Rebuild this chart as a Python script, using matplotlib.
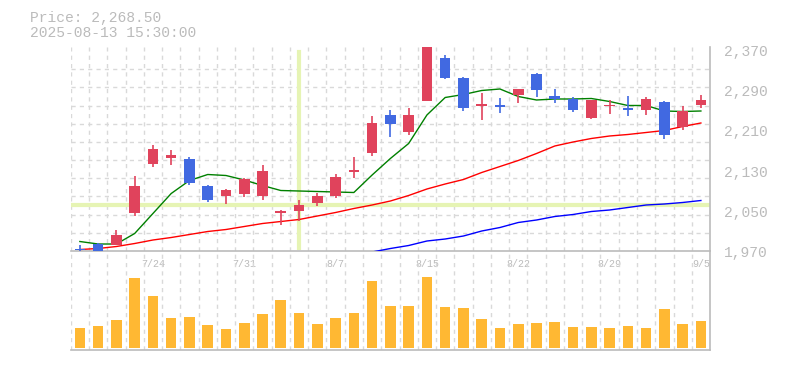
import numpy as np
import matplotlib
matplotlib.use("Agg")
import matplotlib.pyplot as plt
from matplotlib.ticker import FuncFormatter

# datos
fechas = ["7/17", "7/18", "7/22", "7/23", "7/24", "7/25", "7/28", "7/29", "7/30", "7/31",
          "8/1", "8/4", "8/5", "8/6", "8/7", "8/8", "8/12", "8/13", "8/14", "8/15",
          "8/18", "8/19", "8/20", "8/21", "8/22", "8/25", "8/26", "8/27", "8/28", "8/29",
          "9/1", "9/2", "9/3", "9/4", "9/5"]
apertura = [1973, 1984, 1982, 2047, 2145, 2155, 2153, 2100, 2081, 2085,
            2081, 2047, 2051, 2067, 2081, 2129, 2166, 2242, 2208, 2270,
            2356, 2316, 2261, 2262, 2281, 2324, 2280, 2273, 2236, 2259,
            2255, 2251, 2268, 2217, 2261]
maximo = [1982, 1987, 2012, 2121, 2182, 2171, 2158, 2102, 2094, 2117,
          2142, 2052, 2072, 2087, 2124, 2157, 2240, 2252, 2256, 2390,
          2361, 2318, 2285, 2275, 2294, 2326, 2294, 2277, 2271, 2272,
          2280, 2277, 2270, 2260, 2282]
minimo = [1968, 1968, 1982, 2041, 2139, 2142, 2102, 2068, 2065, 2079,
          2073, 2023, 2031, 2061, 2077, 2117, 2160, 2198, 2202, 2270,
          2314, 2249, 2231, 2245, 2265, 2277, 2265, 2248, 2233, 2243,
          2239, 2241, 2193, 2212, 2256]
cierre = [1972, 1968, 2002, 2100, 2174, 2161, 2107, 2073, 2092, 2114,
          2130, 2050, 2062, 2081, 2118, 2133, 2226, 2224, 2242, 2385,
          2315, 2255, 2263, 2257, 2294, 2291, 2273, 2251, 2271, 2262,
          2253, 2274, 2202, 2250, 2272]
mm_corta = [1989, 1984, 1984, 2005, 2045, 2085, 2111, 2123, 2121, 2112,
            2101, 2091, 2090, 2089, 2088, 2087, 2122, 2155, 2185, 2242,
            2277, 2283, 2291, 2294, 2279, 2272, 2274, 2274, 2275, 2269,
            2261, 2261, 2250, 2249, 2250]
mm_media = [1973, 1975, 1979, 1985, 1992, 1997, 2003, 2009, 2013, 2019,
            2025, 2029, 2033, 2040, 2047, 2055, 2062, 2070, 2081, 2094,
            2104, 2113, 2127, 2139, 2151, 2165, 2180, 2188, 2195, 2200,
            2203, 2207, 2211, 2219, 2226]
mm_larga = [np.nan] * 16 + [1968, 1975, 1981, 1990, 1994, 2000, 2010, 2017, 2027, 2032,
                            2039, 2043, 2049, 2052, 2057, 2062, 2064, 2067, 2071]
volumen = [200, 220, 280, 700, 520, 300, 310, 230, 190, 250,
           340, 480, 350, 240, 300, 350, 670, 420, 420, 713,
           410, 400, 290, 200, 240, 250, 260, 210, 210, 200,
           220, 200, 390, 240, 270]
precios_eje = [1970, 2050, 2130, 2210, 2290, 2370]
fechas_eje = ["7/24", "7/31", "8/7", "8/15", "8/22", "8/29", "9/5"]

rojo = "#e0435c"
azul = "#4169e1"
gris = "#bbbbbb"
rejilla = "#d9d9d9"
cruz = "#e6f4b4"
fuente = "Liberation Mono"

x = np.arange(len(fechas))
ancho = 0.58

fig = plt.figure(figsize=(7.85, 3.7), dpi=100)
ax = fig.add_axes([0.0901, 0.3216, 0.8144, 0.5514])
axv = fig.add_axes([0.0901, 0.054, 0.8144, 0.2676], sharex=ax)

# velas
for i in x:
    o, h, l, c = apertura[i], maximo[i], minimo[i], cierre[i]
    col = rojo if c >= o else azul
    ax.vlines(i, l, h, color=col, lw=1.2, zorder=4)
    alto = max(abs(c - o), 2.5)
    base = min(o, c) if abs(c - o) >= 2.5 else (o + c) / 2 - 1.25
    ax.bar(i, alto, ancho, bottom=base, color=col, zorder=5, linewidth=0)

ax.plot(x, mm_corta, color="#008000", lw=1.0, zorder=3)
ax.plot(x, mm_media, color="#ff0000", lw=1.0, zorder=3)
ax.plot(x, mm_larga, color="#0000ff", lw=1.0, zorder=3)

# cruz del cursor
ax.axhline(2062, color=cruz, lw=3, zorder=2)
ax.axvline(12, ymin=0.015, ymax=0.977, color=cruz, lw=3, zorder=2)

ax.set_xlim(-0.5, len(fechas) - 0.5)
ax.set_ylim(1970, 2378)
ax.yaxis.tick_right()
ax.set_yticks(precios_eje)
ax.yaxis.set_major_formatter(FuncFormatter(lambda v, p: f"{v:,.0f}"))
ax.set_yticks(np.linspace(1970, 2370, 12), minor=True)
ax.set_xticks([fechas.index(f) for f in fechas_eje])
ax.set_xticklabels(fechas_eje)
ax.set_xticks(np.arange(-0.5, len(fechas) - 0.5, 1), minor=True)
ax.tick_params(axis="y", which="both", length=0, pad=10, labelsize=10.5, labelcolor=gris)
ax.tick_params(axis="x", which="both", length=0, pad=6, labelsize=7.2, labelcolor=gris)
for lab in ax.get_xticklabels() + ax.get_yticklabels():
    lab.set_fontfamily(fuente)
ax.grid(False)
ax.grid(True, which="minor", color=rejilla, ls=(0, (3, 3)), lw=1)
for s in ["top", "left"]:
    ax.spines[s].set_visible(False)
for s in ["bottom", "right"]:
    ax.spines[s].set_color(gris)
    ax.spines[s].set_linewidth(1.2)

# volumen
axv.bar(x, volumen, ancho, color="#ffb833", zorder=3, linewidth=0)
axv.set_facecolor("none")
axv.set_ylim(-20, 970)
axv.set_yticks([])
axv.grid(False)
axv.grid(True, axis="x", which="minor", color=rejilla, ls=(0, (3, 3)), lw=1)
axv.tick_params(axis="x", which="both", length=0, labelbottom=False)
for s in ["top", "left"]:
    axv.spines[s].set_visible(False)
for s in ["bottom", "right"]:
    axv.spines[s].set_color(gris)
    axv.spines[s].set_linewidth(1.2)

fig.text(30 / 785, 1 - 18 / 370, "Price: 2,268.50", fontsize=10.5, color=gris,
         family=fuente, va="center", ha="left")
fig.text(30 / 785, 1 - 33 / 370, "2025-08-13 15:30:00", fontsize=10.5, color=gris,
         family=fuente, va="center", ha="left")

plt.savefig("out.png", dpi=100)
